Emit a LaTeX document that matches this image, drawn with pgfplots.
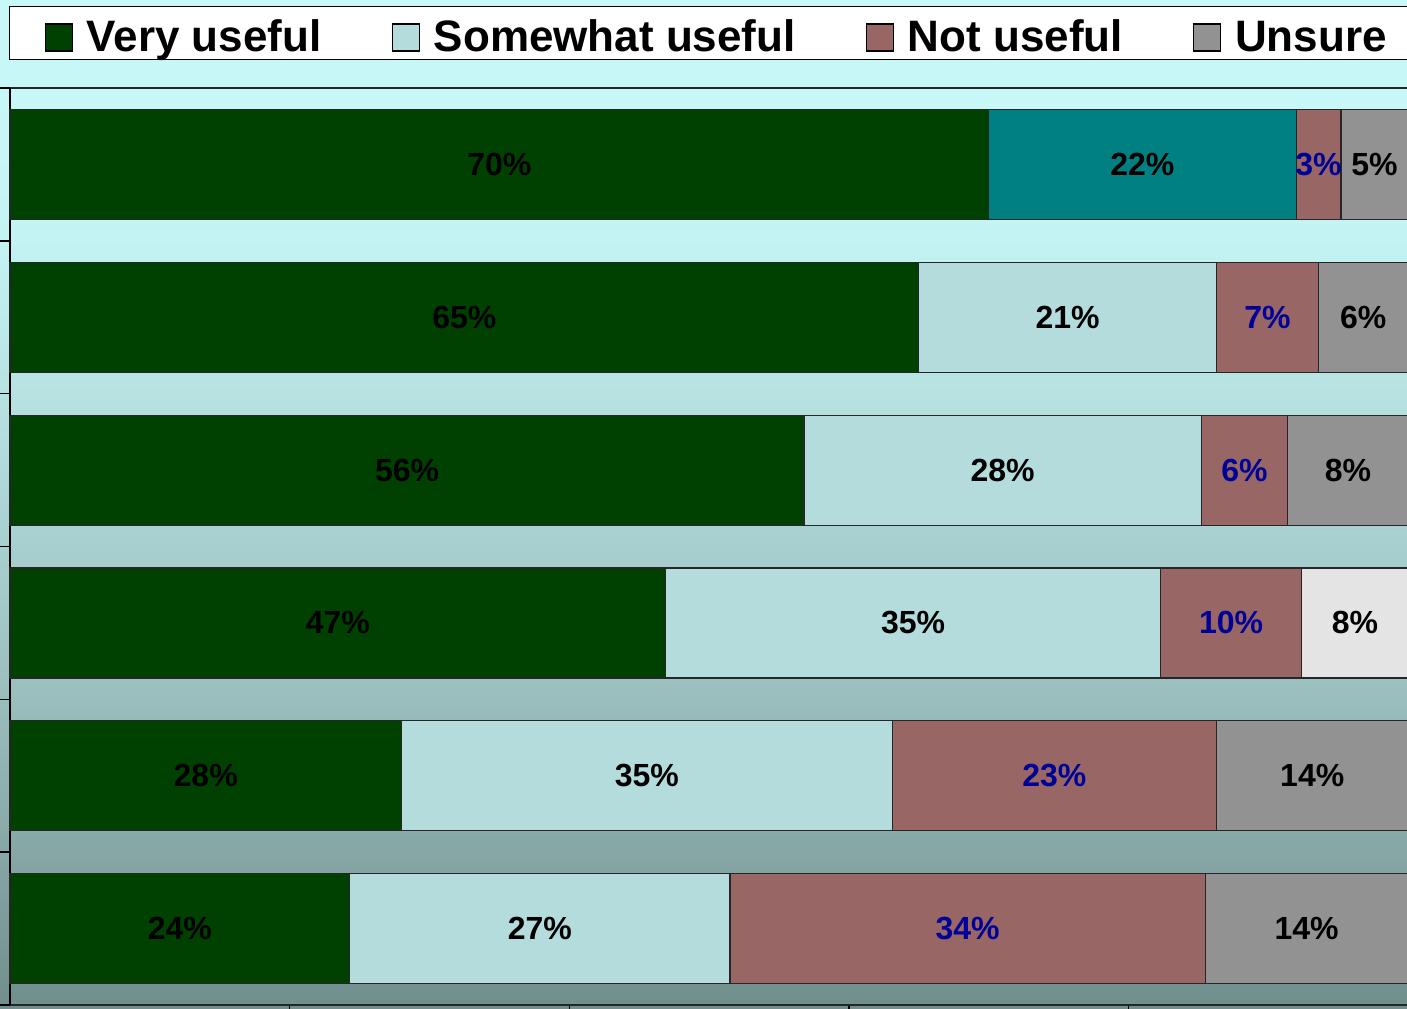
\documentclass[border=0pt]{standalone}
\usepackage{fontspec}
\setmainfont{Liberation Sans}
\usepackage{pgfplots}
\usepackage{pgfplotstable}
\pgfplotsset{compat=1.18}

\definecolor{vgreen}{RGB}{0,64,0}
\definecolor{somew}{RGB}{180,220,220}
\definecolor{tealc}{RGB}{0,128,128}
\definecolor{notu}{RGB}{153,102,102}
\definecolor{unsu}{RGB}{146,146,146}
\definecolor{unsul}{RGB}{228,228,228}
\definecolor{lblue}{RGB}{0,0,150}
\definecolor{bg0}{RGB}{200,248,248}
\definecolor{bg1}{RGB}{198,246,246}
\definecolor{bg2}{RGB}{195,243,243}
\definecolor{bg3}{RGB}{184,226,226}
\definecolor{bg4}{RGB}{168,207,207}
\definecolor{bg5}{RGB}{154,190,189}
\definecolor{bg6}{RGB}{134,167,166}
\definecolor{bg7}{RGB}{112,142,140}
\newcommand{\nl}{}

% row: 0 = top bar
\pgfplotstableread{
y v lab
0 70   70\%
1 65   65\%
2 56.8 56\%
3 46.9 47\%
4 28   28\%
5 24.3 24\%
}\tvery
\pgfplotstableread{
y v lab
0 0    \nl
1 21.3 21\%
2 28.4 28\%
3 35.4 35\%
4 35.1 35\%
5 27.2 27\%
}\tsome
\pgfplotstableread{
y v lab
0 22 22\%
1 0  \nl
2 0  \nl
3 0  \nl
4 0  \nl
5 0  \nl
}\tteal
\pgfplotstableread{
y v lab
0 3.2  3\%
1 7.3  7\%
2 6.2  6\%
3 10.1 10\%
4 23.2 23\%
5 34   34\%
}\tnot
\pgfplotstableread{
y v lab
0 4.8  5\%
1 6.4  6\%
2 8.6  8\%
3 0    \nl
4 13.7 14\%
5 14.5 14\%
}\tuns
\pgfplotstableread{
y v lab
0 0   \nl
1 0   \nl
2 0   \nl
3 7.6 8\%
4 0   \nl
5 0   \nl
}\tunsl

\begin{document}
\begin{tikzpicture}[x=1pt,y=1pt]
\useasboundingbox (0,0) rectangle (703.5,504);
\clip (0,0) rectangle (703.5,504);
% background gradient
\shade[top color=bg0,bottom color=bg1] (0,504) rectangle (703.5,429);
\shade[top color=bg1,bottom color=bg2] (0,429.02) rectangle (703.5,384);
\shade[top color=bg2,bottom color=bg3] (0,384.02) rectangle (703.5,307.5);
\shade[top color=bg3,bottom color=bg4] (0,307.52) rectangle (703.5,231);
\shade[top color=bg4,bottom color=bg5] (0,231.02) rectangle (703.5,155);
\shade[top color=bg5,bottom color=bg6] (0,155.02) rectangle (703.5,78.5);
\shade[top color=bg6,bottom color=bg7] (0,78.52) rectangle (703.5,0);

\begin{axis}[
  at={(5pt,1.5pt)}, anchor=south west,
  scale only axis, width=699pt, height=458.5pt,
  xbar stacked, bar width=55pt,
  xmin=0, xmax=100, ymin=-0.5, ymax=5.5, y dir=reverse,
  ytick={-0.5,0.5,1.5,2.5,3.5,4.5,5.5}, yticklabels={},
  xtick={20,40,60,80}, xticklabels={},
  tick align=outside, tick pos=left, major tick length=5pt,
  tick style={black, line width=0.7pt},
  separate axis lines,
  axis line style={black!85, line width=0.6pt},
  every outer y axis line/.append style={black, line width=1.4pt},
  clip=false,
  every axis plot/.append style={draw=black!85, line width=0.6pt},
  point meta=explicit symbolic,
  nodes near coords,
  every node near coord/.append style={anchor=center,
     font=\bfseries\fontsize{16}{18}\selectfont, text=black},
  legend columns=4,
  legend style={at={(0,1)}, anchor=south west, yshift=14pt, xshift=-0.5pt,
    draw=black, line width=0.6pt, fill=white,
    font=\bfseries\fontsize{22}{26}\selectfont,
    inner xsep=17.5pt, inner ysep=0.5pt,
    nodes={inner xsep=0pt, inner ysep=0pt, text height=22pt, text depth=3.5pt},
    /tikz/every odd column/.append style={column sep=7pt},
    /tikz/every even column/.append style={column sep=35pt}},
  legend image code/.code={\draw[#1,draw=black,line width=0.6pt] (0pt,-9pt) rectangle (13.5pt,4.5pt);},
]
\addplot[fill=vgreen] table[x=v,y=y,meta=lab] {\tvery};
\addlegendentry{Very useful}
\addplot[fill=somew] table[x=v,y=y,meta=lab] {\tsome};
\addlegendentry{Somewhat useful}
\addplot[fill=tealc, forget plot] table[x=v,y=y,meta=lab] {\tteal};
\addplot[fill=notu, every node near coord/.append style={text=lblue}] table[x=v,y=y,meta=lab] {\tnot};
\addlegendentry{Not useful}
\addplot[fill=unsu] table[x=v,y=y,meta=lab] {\tuns};
\addlegendentry{Unsure}
\addplot[fill=unsul, forget plot] table[x=v,y=y,meta=lab] {\tunsl};
\end{axis}
\end{tikzpicture}
\end{document}
